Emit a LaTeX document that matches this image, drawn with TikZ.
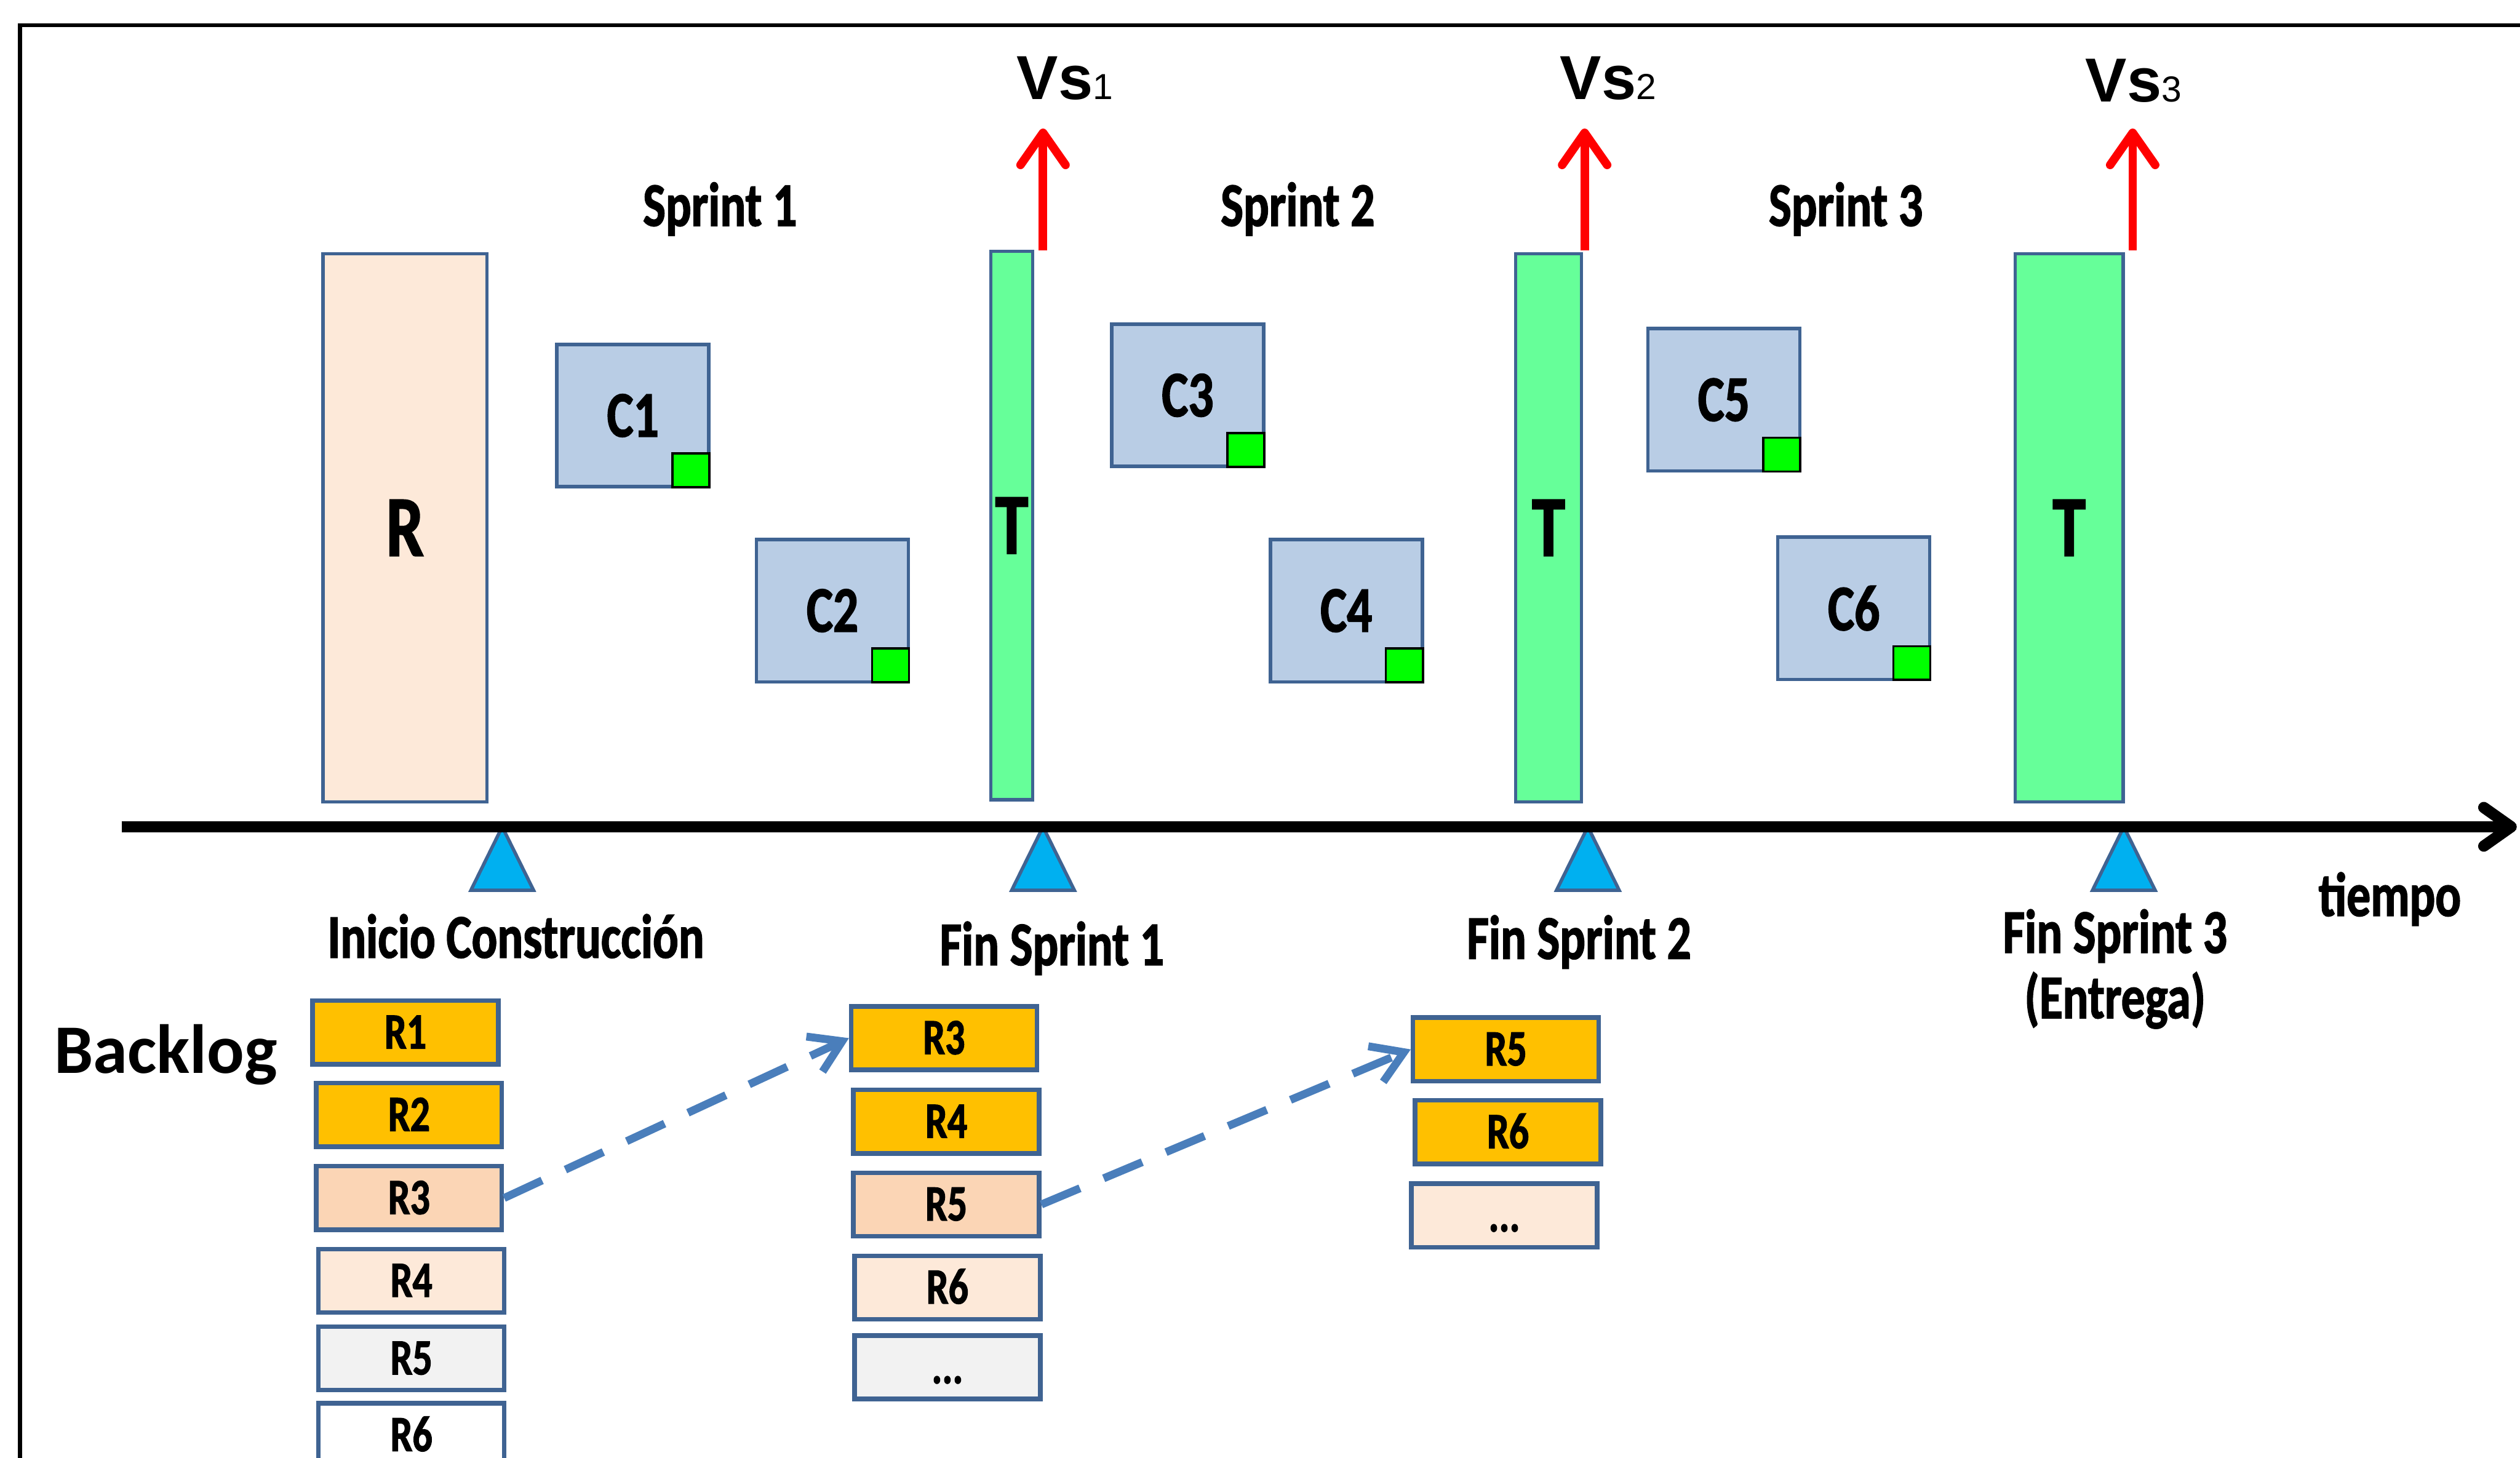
\documentclass[tikz,border=0pt]{standalone}
\usepackage{fontspec}
\setmainfont{Carlito}
\newfontfamily\condfont[FakeStretch=0.77, FakeBold=1.5]{Carlito}
\newfontfamily\arialfont{Liberation Sans}
\usetikzlibrary{arrows.meta}

\definecolor{boxline}{HTML}{3F6392}
\definecolor{compfill}{HTML}{B9CDE5}
\definecolor{peach}{HTML}{FDE9D9}
\definecolor{peachdark}{HTML}{FBD5B5}
\definecolor{testgreen}{HTML}{66FF99}
\definecolor{donegreen}{HTML}{00FF00}
\definecolor{markblue}{HTML}{00B0F0}
\definecolor{gold}{HTML}{FFC000}
\definecolor{backgray}{HTML}{F2F2F2}
\definecolor{flowblue}{HTML}{4A7EBB}

\newcommand\lblfont{\condfont\bfseries\fontsize{11}{11.55}\selectfont}
\newcommand\compfont{\condfont\bfseries\fontsize{11.5}{13}\selectfont}
\newcommand\bigfont{\condfont\bfseries\fontsize{15.3}{17}\selectfont}
\newcommand\itemfont{\condfont\bfseries\fontsize{9}{10}\selectfont}
\newcommand\backlogfont{\bfseries\fontsize{12.3}{14}\selectfont}
\newcommand\vsfont{\arialfont\bfseries\fontsize{11}{13}\selectfont}
\newcommand\vsnum[1]{{\mdseries\fontsize{6.4}{7}\selectfont #1}}

\begin{document}
\begin{tikzpicture}[x=0.01cm, y=-0.01cm,
    % Requirements phase box
    phasebox/.style={
        rectangle,
        draw=boxline,
        line width=0.6pt,
        fill=peach,
        inner sep=0pt,
        minimum width=1.02cm,
        minimum height=3.41cm,
        font=\bigfont
    },
    % Component box
    compbox/.style={
        rectangle,
        draw=boxline,
        line width=0.6pt,
        fill=compfill,
        inner sep=0pt,
        minimum width=0.945cm,
        minimum height=0.885cm,
        font=\compfont
    },
    % Small green square of a component
    donebox/.style={
        rectangle,
        draw=black,
        line width=0.4pt,
        fill=donegreen,
        inner sep=0pt,
        minimum width=0.23cm,
        minimum height=0.21cm
    },
    % Test bar
    testbar/.style={
        rectangle,
        draw=boxline,
        line width=0.6pt,
        fill=testgreen,
        inner sep=0pt,
        minimum height=3.41cm,
        font=\bigfont
    },
    % Backlog item
    reqbox/.style={
        rectangle,
        draw=boxline,
        line width=0.8pt,
        inner sep=0pt,
        minimum width=1.155cm,
        minimum height=0.395cm,
        text height=0.2cm,
        text depth=0pt,
        font=\itemfont
    },
    % Milestone triangle
    marker/.style={
        draw=boxline,
        line width=0.6pt,
        fill=markblue
    },
    % Arrow styles
    vsarrow/.style={
        -{Straight Barb[length=0.2cm, width=0.28cm, round]},
        draw=red,
        line width=1.5pt
    },
    timearrow/.style={
        -{Straight Barb[length=0.17cm, width=0.24cm, round]},
        line width=2pt
    },
    movearrow/.style={
        -{Straight Barb[length=0.19cm, width=0.24cm]},
        draw=flowblue,
        line width=1.4pt,
        dash pattern=on 0.26cm off 0.16cm
    },
    % Label style
    lbl/.style={
        font=\lblfont,
        inner sep=0pt
    }
]

\useasboundingbox (0,0) rectangle (1568,907);
\clip (0,0) rectangle (1568,907);

% === Frame ===
\draw[line width=0.7pt] (12.5,920) -- (12.5,15.8) -- (1580,15.8);

% === Sprint headings ===
\node[lbl, anchor=base] (sp1) at (448,140.6) {Sprint 1};
\node[lbl, anchor=base] (sp2) at (807.5,140.6) {Sprint 2};
\node[lbl, anchor=base] (sp3) at (1148.5,140.6) {Sprint 3};

% === Requirements and components ===
\node[phasebox] (req) at (252,328.5) {R};

\node[compbox] (c1) at (393.8,258.6) {C1};
\node[donebox, anchor=south east] (d1) at (c1.south east) {};
\node[compbox] (c2) at (518,380) {C2};
\node[donebox, anchor=south east] (d2) at (c2.south east) {};
\node[compbox] (c3) at (739,246) {C3};
\node[donebox, anchor=south east] (d3) at (c3.south east) {};
\node[compbox] (c4) at (837.7,380) {C4};
\node[donebox, anchor=south east] (d4) at (c4.south east) {};
\node[compbox] (c5) at (1072.6,248.8) {C5};
\node[donebox, anchor=south east] (d5) at (c5.south east) {};
\node[compbox] (c6) at (1153.5,378.5) {C6};
\node[donebox, anchor=south east] (d6) at (c6.south east) {};

% === Test bars ===
\node[testbar, minimum width=0.26cm] (t1) at (629.5,327) {T};
\node[testbar, minimum width=0.41cm] (t2) at (963.5,328.5) {T};
\node[testbar, minimum width=0.67cm] (t3) at (1287.5,328.5) {T};

% === Versions ===
\coordinate (vs1base) at (649,156);
\coordinate (vs1tip) at (649,80);
\coordinate (vs2base) at (986,156);
\coordinate (vs2tip) at (986,80);
\coordinate (vs3base) at (1327,156);
\coordinate (vs3tip) at (1327,80);
\draw[vsarrow] (vs1base) -- (vs1tip);
\draw[vsarrow] (vs2base) -- (vs2tip);
\draw[vsarrow] (vs3base) -- (vs3tip);

\node[anchor=base west, inner sep=0pt, font=\vsfont] (vs1) at (632,62) {Vs\vsnum{1}};
\node[anchor=base west, inner sep=0pt, font=\vsfont] (vs2) at (970,62) {Vs\vsnum{2}};
\node[anchor=base west, inner sep=0pt, font=\vsfont] (vs3) at (1297,63.5) {Vs\vsnum{3}};

% === Time axis ===
\draw[marker] (312.5,514.5) -- (332,554) -- (293,554) -- cycle;
\draw[marker] (649,514.5) -- (668.5,554) -- (629.5,554) -- cycle;
\draw[marker] (988,514.5) -- (1007.5,554) -- (968.5,554) -- cycle;
\draw[marker] (1321.5,514.5) -- (1341,554) -- (1302,554) -- cycle;

\coordinate (tstart) at (75.7,514.5);
\coordinate (tend) at (1566,514.5);
\draw[timearrow] (tstart) -- (tend);

\node[lbl, anchor=base] (inicio) at (321,596) {Inicio Construcción};
\node[lbl, anchor=base] (fin1) at (654.5,600.6) {Fin Sprint 1};
\node[lbl, anchor=base] (fin2) at (982.5,596.7) {Fin Sprint 2};
\node[lbl, anchor=base, align=center] (fin3) at (1316,633.6) {Fin Sprint 3\\(Entrega)};
\node[lbl, anchor=base] (tiempo) at (1487,570) {tiempo};

% === Backlog ===
\node[font=\backlogfont, anchor=base west, inner sep=0pt] (backlog) at (33,668) {Backlog};

% start of construction
\node[reqbox, fill=gold] (b1r1) at (252.3,642.5) {R1};
\node[reqbox, fill=gold] (b1r2) at (254.5,693.8) {R2};
\node[reqbox, fill=peachdark] (b1r3) at (254.5,745.5) {R3};
\node[reqbox, fill=peach] (b1r4) at (256,797) {R4};
\node[reqbox, fill=backgray] (b1r5) at (256,845.3) {R5};
\node[reqbox, fill=white] (b1r6) at (256,893) {R6};

% end of sprint 1
\node[reqbox, fill=gold] (b2r3) at (587.4,646) {R3};
\node[reqbox, fill=gold] (b2r4) at (588.8,698) {R4};
\node[reqbox, fill=peachdark] (b2r5) at (588.8,749.5) {R5};
\node[reqbox, fill=peach] (b2r6) at (589.5,801.2) {R6};
\node[reqbox, fill=backgray] (b2more) at (589.5,850.8) {...};

% end of sprint 2
\node[reqbox, fill=gold] (b3r5) at (937,653) {R5};
\node[reqbox, fill=gold] (b3r6) at (938.3,704.5) {R6};
\node[reqbox, fill=peach] (b3more) at (936,756.3) {...};

% Items moving on
\draw[movearrow] (b1r3.east) -- (b2r3.west);
\draw[movearrow] (b2r5.east) -- (b3r5.west);

\end{tikzpicture}
\end{document}
